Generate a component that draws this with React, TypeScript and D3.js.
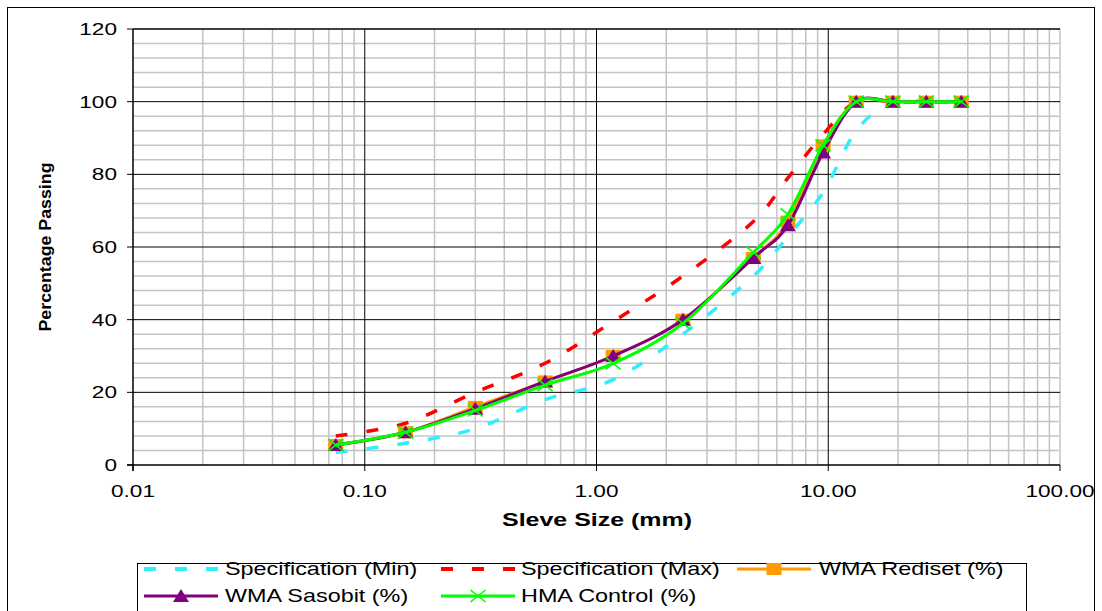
import React from 'react';
import * as d3 from 'd3';

const sieveSizes = [0.075, 0.15, 0.3, 0.6, 1.18, 2.36, 4.75, 6.7, 9.5, 13.2, 19, 26.5, 37.5];
const specMin = [3.5, 6, 10, 18, 23.5, 36, 52, 63, 75, 92, 100, 100, 100];
const specMax = [8, 11.5, 20, 28, 39.5, 52, 67, 79, 91, 100, 100, 100, 100];
const wmaRediset = [5.5, 9, 16, 23, 30, 40, 57, 67, 88, 100, 100, 100, 100];
const wmaSasobit = [5.5, 9, 15.5, 23, 30, 40, 57, 66, 86, 100, 100, 100, 100];
const hmaControl = [5.5, 9, 15, 22, 28, 39, 58.5, 69, 88, 100, 100, 100, 100];

const xTickValues = [0.01, 0.1, 1, 10, 100];
const xTickLabels = ['0.01', '0.10', '1.00', '10.00', '100.00'];
const yTickValues = [0, 20, 40, 60, 80, 100, 120];

const seriesNames = ['Specification (Min)', 'Specification (Max)', 'WMA Rediset (%)', 'WMA Sasobit (%)', 'HMA Control (%)'];

const FONT = '"Liberation Sans", Arial, Helvetica, sans-serif';
const SX = 1.33;

type Marker = 'none' | 'square' | 'triangle' | 'x';
interface Series { name: string; values: number[]; color: string; dash?: string; marker: Marker; width: number }

const series: Series[] = [
  { name: seriesNames[0], values: specMin, color: '#2FEFFF', dash: '12,19', marker: 'none', width: 3.5 },
  { name: seriesNames[1], values: specMax, color: '#FF0000', dash: '12,19', marker: 'none', width: 3.5 },
  { name: seriesNames[2], values: wmaRediset, color: '#FF9900', marker: 'square', width: 3 },
  { name: seriesNames[3], values: wmaSasobit, color: '#800080', marker: 'triangle', width: 3 },
  { name: seriesNames[4], values: hmaControl, color: '#00FF00', marker: 'x', width: 3 },
];

function MarkerShape({ type, x, y, color }: { type: Marker; x: number; y: number; color: string }) {
  if (type === 'square') return <rect x={x - 7.5} y={y - 6} width={15} height={12} fill={color} />;
  if (type === 'triangle') return <path d={`M${x},${y - 7}L${x + 8},${y + 6}L${x - 8},${y + 6}Z`} fill={color} />;
  if (type === 'x')
    return (
      <g stroke={color} strokeWidth={1.6}>
        <line x1={x - 7.5} y1={y - 6} x2={x + 7.5} y2={y + 6} />
        <line x1={x - 7.5} y1={y + 6} x2={x + 7.5} y2={y - 6} />
      </g>
    );
  return null;
}

function ST({ x, y, anchor = 'start', size = 17, weight = 'normal', sx = SX, children, rotate = 0, textLength }: any) {
  return (
    <text
      transform={`translate(${x},${y}) scale(${sx},1)${rotate ? ` rotate(${rotate})` : ''}`}
      textAnchor={anchor}
      dominantBaseline="central"
      fontFamily={FONT}
      fontSize={size}
      fontWeight={weight}
      fill="#000"
      textLength={textLength}
      lengthAdjust={textLength ? 'spacingAndGlyphs' : undefined}
    >
      {children}
    </text>
  );
}

export default function App() {
  const x = d3.scaleLog().domain([0.01, 100]).range([133, 1060]);
  const y = d3.scaleLinear().domain([0, 120]).range([465, 29]);

  const line = d3
    .line<[number, number]>()
    .x((d) => x(d[0]))
    .y((d) => y(d[1]))
    .curve(d3.curveCardinal.tension(0));

  const minorX: number[] = [];
  for (const d of [0.01, 0.1, 1, 10]) for (let k = 2; k <= 9; k++) minorX.push(d * k);
  const minorY: number[] = [];
  for (let v = 4; v < 120; v += 4) if (v % 20 !== 0) minorY.push(v);

  const [x0, x1] = x.range();
  const [y0, y1] = y.range();

  const legendRows = [
    [
      { s: series[0], lx: 144, tx: 225, ly: 569 },
      { s: series[1], lx: 441, tx: 521, ly: 569 },
      { s: series[2], lx: 737, tx: 819, ly: 569 },
    ],
    [
      { s: series[3], lx: 144, tx: 225, ly: 596 },
      { s: series[4], lx: 441, tx: 521, ly: 596 },
    ],
  ];

  return (
    <svg width={1102} height={611} style={{ position: 'absolute', left: 0, top: 0, background: '#fff' }}>
      <rect x={0} y={0} width={1102} height={611} fill="#fff" />
      <rect x={7.5} y={7.5} width={1087} height={620} fill="none" stroke="#000" strokeWidth={1} />

      {/* minor grid */}
      <g stroke="#C4C4C4" strokeWidth={1.5}>
        {minorX.map((v, i) => (
          <line key={'mx' + i} x1={x(v)} x2={x(v)} y1={y1} y2={y0} />
        ))}
        {minorY.map((v, i) => (
          <line key={'my' + i} x1={x0} x2={x1} y1={y(v)} y2={y(v)} />
        ))}
        <line x1={x(100)} x2={x(100)} y1={y1} y2={y0} />
      </g>
      {/* major grid */}
      <g stroke="#000" strokeWidth={1}>
        {xTickValues.slice(1, 4).map((v, i) => (
          <line key={'Mx' + i} x1={x(v)} x2={x(v)} y1={y1} y2={y0} />
        ))}
        {yTickValues.slice(1).map((v, i) => (
          <line key={'My' + i} x1={x0} x2={x1} y1={y(v)} y2={y(v)} strokeWidth={v === 120 ? 1.5 : 1} />
        ))}
      </g>
      {/* axes */}
      <g stroke="#000" strokeWidth={1.5}>
        <line x1={x0} x2={x0} y1={y1} y2={y0 + 6} />
        <line x1={x0 - 6} x2={x1} y1={y0} y2={y0} />
        {xTickValues.map((v, i) => (
          <line key={'xt' + i} x1={x(v)} x2={x(v)} y1={y0} y2={y0 + 6} strokeWidth={1} />
        ))}
        {yTickValues.map((v, i) => (
          <line key={'yt' + i} x1={x0 - 6} x2={x0} y1={y(v)} y2={y(v)} strokeWidth={1} />
        ))}
      </g>

      {/* tick labels */}
      {yTickValues.map((v, i) => (
        <ST key={'yl' + i} x={117} y={y(v)} anchor="end">
          {String(v)}
        </ST>
      ))}
      {xTickValues.map((v, i) => (
        <ST key={'xl' + i} x={x(v)} y={491} anchor="middle">
          {xTickLabels[i]}
        </ST>
      ))}

      {/* axis titles */}
      <ST x={597} y={520} anchor="middle" size={18} weight="bold" sx={1} textLength={190}>
        Sleve Size (mm)
      </ST>
      <ST x={45.5} y={247} anchor="middle" size={15} weight="bold" sx={1.1} rotate={-90} textLength={169}>
        Percentage Passing
      </ST>

      {/* series */}
      {series.map((s, si) => {
        const pts: [number, number][] = sieveSizes.map((d, i) => [d, s.values[i]]);
        return (
          <g key={'s' + si}>
            <path d={line(pts) || ''} fill="none" stroke={s.color} strokeWidth={s.width} strokeDasharray={s.dash} />
            {s.marker !== 'none' &&
              pts.map((p, i) => <MarkerShape key={i} type={s.marker} x={x(p[0])} y={y(p[1])} color={s.color} />)}
          </g>
        );
      })}

      {/* legend */}
      <rect x={137.5} y={563.5} width={889} height={60} fill="#fff" stroke="#000" strokeWidth={1} />
      {legendRows.flat().map((it, i) => (
        <g key={'lg' + i}>
          <line
            x1={it.lx}
            x2={it.lx + 74}
            y1={it.ly}
            y2={it.ly}
            stroke={it.s.color}
            strokeWidth={it.s.dash ? 4 : 3}
            strokeDasharray={it.s.dash}
          />
          {it.s.marker !== 'none' && <MarkerShape type={it.s.marker} x={it.lx + 37} y={it.ly} color={it.s.color} />}
          <ST x={it.tx} y={it.ly} size={18} sx={1.3}>
            {it.s.name}
          </ST>
        </g>
      ))}
    </svg>
  );
}
